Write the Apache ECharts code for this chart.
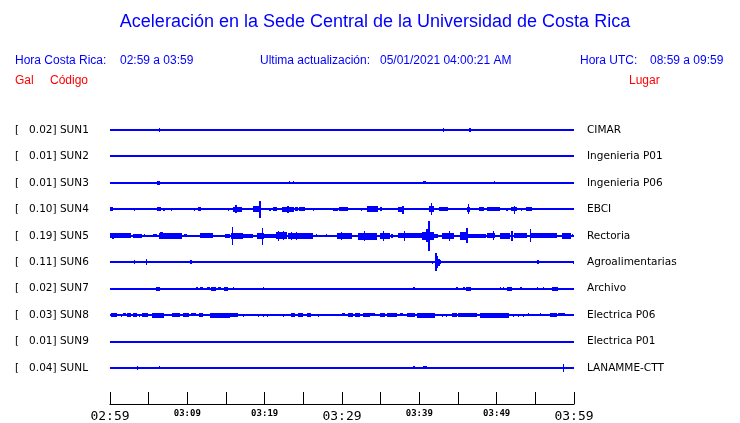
<!DOCTYPE html>
<html>
<head>
<meta charset="utf-8">
<script src="https://cdn.jsdelivr.net/npm/echarts@6/dist/echarts.min.js"></script>
<style>
html,body{margin:0;padding:0;background:#fff;overflow:hidden;}
#chart{width:740px;height:423px;}
</style>
</head>
<body>
<div id="chart"></div>
<script>
// ---- data ----
const codes = ['SUN1','SUN2','SUN3','SUN4','SUN5','SUN6','SUN7','SUN8','SUN9','SUNL'];
const galValues = ['0.02','0.01','0.01','0.10','0.19','0.11','0.02','0.03','0.01','0.04'];
const places = ['CIMAR','Ingenieria P01','Ingenieria P06','EBCI','Rectoria','Agroalimentarias','Archivo','Electrica P06','Electrica P01','LANAMME-CTT'];
const timeLabels = ['02:59','03:09','03:19','03:29','03:39','03:49','03:59'];
const totalMinutes = 60;
// bursts: [start minute, end minute, half amplitude (lane spacing = 10)]
const sun1 = [[6.3,6.3,0.6],[43.1,43.1,0.6],[46.4,46.7,0.55]];
const sun2 = [];
const sun3 = [[6.1,6.5,0.55],[23.2,23.2,0.5],[23.7,23.7,0.5],[40.5,40.9,0.5],[49.7,49.7,0.5],[51.2,51.2,0.3],[56.0,56.0,0.3]];
const sun4 = [[0,0.4,0.6],[3.1,3.1,0.4],[4.4,4.4,0.3],[6.1,6.6,0.55],[6.9,7.1,0.45],[7.9,7.9,0.4],[10.9,10.9,0.4],[11.4,11.8,0.55],
  [15.3,15.3,0.4],[15.9,17.1,0.75],[16.2,16.4,1.2],[18.5,19.3,0.9],[19.3,19.5,2.4],[20.6,20.8,0.45],[21.1,21.6,0.55],
  [22.2,23.7,0.75],[22.9,23.1,1.0],[23.9,24.3,0.55],[24.4,25.2,0.6],[26.3,26.3,0.4],[28.9,29.5,0.5],[29.6,30.8,0.6],
  [32.4,32.4,0.5],[33.2,34.6,0.85],[34.9,35.2,0.6],[36.3,36.3,0.35],[37.3,38.0,0.75],[37.7,37.9,1.1],[40.6,40.6,0.35],
  [41.3,41.9,0.9],[41.5,41.6,1.8],[42.5,43.6,0.6],[44.6,44.6,0.35],[46.1,46.5,0.75],[46.3,46.4,1.5],[47.7,48.4,0.55],
  [48.7,50.4,0.55],[51.2,51.5,0.45],[51.9,52.7,0.6],[52.3,52.3,1.1],[53.2,53.2,0.4],[53.8,54.6,0.55],[56.9,56.9,0.3],
  [58.3,58.3,0.3],[59.5,59.5,0.35]];
const sun5 = [[0,2.7,0.75],[0.3,0.6,0.9],[3.0,4.1,0.55],[4.4,4.5,0.4],[5.6,6.1,0.5],[6.3,9.3,0.85],[6.5,6.9,1.0],[9.6,10.0,0.45],
  [11.6,13.3,0.75],[14.9,15.6,0.6],[15.6,16.1,0.85],[15.8,15.9,2.6],[16.1,17.1,0.9],[17.2,18.5,0.55],[19.0,19.9,0.9],
  [19.6,19.7,2.4],[19.9,21.4,0.55],[21.5,22.9,1.0],[21.7,21.8,1.4],[22.4,22.5,1.3],[23.0,26.2,0.85],[23.4,23.5,1.2],
  [24.0,24.1,1.1],[26.7,26.7,0.5],[27.9,27.9,0.45],[29.4,31.4,0.85],[29.9,30.0,1.1],[32.1,34.6,0.95],[32.9,33.0,1.5],
  [34.9,36.2,0.9],[35.3,35.4,1.5],[36.3,36.6,0.55],[37.2,40.3,0.75],[38.0,38.1,1.5],[40.3,41.8,1.2],[40.9,41.4,1.9],
  [41.1,41.3,4.4],[41.8,42.4,0.55],[42.9,44.4,0.9],[43.8,43.9,1.5],[45.3,46.1,1.1],[46.0,46.2,2.2],[46.2,48.7,0.55],
  [48.7,49.7,0.75],[49.5,49.6,1.3],[50.4,51.7,0.9],[51.9,52.1,1.5],[52.2,53.9,0.75],[54.3,54.3,1.85],[54.5,57.8,0.7],
  [58.4,59.5,0.9],[59.8,59.8,0.4]];
const sun6 = [[3.1,3.2,0.55],[4.7,4.8,0.9],[6.3,6.3,0.35],[10.3,10.5,0.55],[23.5,23.5,0.35],[41.6,41.6,0.5],
  [42.0,42.2,2.6],[42.2,42.4,1.8],[42.4,42.6,1.0],[42.6,42.8,0.6],[47.1,47.1,0.35],[55.2,55.5,0.55],[59.9,59.9,0.4]];
const sun7 = [[5.9,6.4,0.55],[11.1,11.3,0.5],[11.7,12.1,0.5],[12.5,12.9,0.45],[13.1,13.8,0.55],[14.0,14.4,0.45],
  [14.7,15.2,0.55],[15.9,15.9,0.35],[19.8,19.8,0.35],[39.2,39.4,0.5],[44.8,45.0,0.5],[45.6,45.8,0.5],[46.0,46.6,0.55],
  [49.5,49.5,0.3],[50.4,50.4,0.35],[50.8,50.8,0.35],[51.3,52.0,0.6],[53.0,53.2,0.5],[55.2,55.3,0.5],[56.0,56.0,0.35],
  [57.1,57.9,0.6]];
const sun8 = [[0.1,0.9,0.55],[1.4,1.4,0.4],[1.7,2.1,0.5],[2.2,2.7,0.55],[3.0,3.5,0.55],[3.75,3.75,0.4],[4.1,4.9,0.55],
  [5.4,6.9,0.7],[8.0,9.0,0.55],[9.4,10.2,0.55],[10.5,11.2,0.5],[11.5,12.0,0.55],[12.9,15.5,0.7],[15.5,16.5,0.55],
  [17.2,17.2,0.4],[19.1,19.1,0.4],[19.8,19.8,0.4],[20.3,20.3,0.4],[22.4,22.4,0.4],[23.4,23.9,0.55],[24.3,25.0,0.55],
  [25.5,26.0,0.55],[26.9,26.9,0.4],[28.8,28.8,0.3],[30.0,30.4,0.5],[30.8,31.4,0.55],[31.7,32.3,0.55],[32.7,33.6,0.55],
  [33.6,34.3,0.5],[34.9,35.6,0.55],[35.8,37.1,0.55],[37.5,37.9,0.5],[38.4,39.4,0.55],[39.7,42.0,0.7],[42.9,42.9,0.4],
  [43.4,43.4,0.4],[44.2,44.9,0.55],[45.0,47.5,0.55],[47.8,51.5,0.7],[52.1,52.1,0.4],[52.8,52.8,0.4],[53.4,53.4,0.4],
  [54.0,54.0,0.5],[55.6,55.6,0.5],[56.9,57.8,0.55],[57.9,58.8,0.5]];
const sun9 = [];
const sunl = [[3.5,3.5,0.6],[6.3,6.3,0.45],[15.8,15.8,0.35],[17.3,17.3,0.35],[39.2,39.5,0.5],[40.5,41.0,0.5],[58.6,58.6,1.1]];
const traces = [sun1,sun2,sun3,sun4,sun5,sun6,sun7,sun8,sun9,sunl];

// ---- build ----
const laneStep = 10;
const gain = 1.3;
const burstData = [];
traces.forEach((tr, i) => tr.forEach(b => burstData.push([b[0], b[1], b[2], i])));
const laneData = codes.map((c, i) => [0, totalMinutes, i]);
const BLUE = '#0000ff';
const yMax = (codes.length - 1) * laneStep;

function laneFormatter(fn) {
  return function (v) {
    const idx = Math.round(v / laneStep);
    if (Math.abs(v - idx * laneStep) > 0.01 || idx < 0 || idx >= codes.length) return '';
    return fn(idx);
  };
}

const chart = echarts.init(document.getElementById('chart'), null, {renderer: 'canvas', width: 740, height: 423});
chart.setOption({
  animation: false,
  backgroundColor: '#ffffff',
  grid: {left: 110, width: 464, top: 130, height: 243, containLabel: false},
  xAxis: {
    type: 'value', min: 0, max: totalMinutes, interval: 5, position: 'bottom', offset: 36,
    axisLine: {show: true, onZero: false, lineStyle: {color: '#000', width: 1}},
    axisTick: {show: true, inside: true, length: 12, lineStyle: {color: '#000', width: 1}},
    splitLine: {show: false},
    axisLabel: {
      margin: 4,
      showMinLabel: true, showMaxLabel: true,
      formatter: function (v) {
        if (v % 10 !== 0) return '';
        const lbl = timeLabels[v / 10];
        return v % 30 === 0 ? '{b|' + lbl + '}' : '{s|' + lbl + '}';
      },
      rich: {
        b: {fontFamily: 'DejaVu Sans Mono', fontSize: 13, color: '#000', padding: [2, 0, 0, 0]},
        s: {fontFamily: 'DejaVu Sans Mono', fontSize: 9, fontWeight: 'bold', color: '#000', padding: [1, 0, 0, 0]}
      }
    }
  },
  yAxis: [{
    type: 'value', inverse: true, min: 0, max: yMax, interval: laneStep,
    axisLine: {show: false}, axisTick: {show: false}, splitLine: {show: false},
    axisLabel: {
      margin: 95, align: 'left', color: '#000', fontFamily: 'DejaVu Sans', fontSize: 10.5,
      formatter: laneFormatter(i => '[   ' + galValues[i] + '] ' + codes[i])
    }
  }, {
    type: 'value', inverse: true, min: 0, max: yMax, interval: laneStep, position: 'right',
    axisLine: {show: false}, axisTick: {show: false}, splitLine: {show: false},
    axisLabel: {
      margin: 13, align: 'left', color: '#000', fontFamily: 'DejaVu Sans', fontSize: 10.5,
      formatter: laneFormatter(i => places[i])
    }
  }],
  graphic: [
    {type: 'text', x: 375, y: 13, style: {text: 'Aceleración en la Sede Central de la Universidad de Costa Rica', font: '18px "Liberation Sans"', fill: BLUE, textAlign: 'center'}},
    {type: 'text', x: 15, y: 55, style: {text: 'Hora Costa Rica:', font: '12px "Liberation Sans"', fill: BLUE}},
    {type: 'text', x: 120, y: 55, style: {text: '02:59 a 03:59', font: '12px "Liberation Sans"', fill: BLUE}},
    {type: 'text', x: 260, y: 55, style: {text: 'Ultima actualización:', font: '12px "Liberation Sans"', fill: BLUE}},
    {type: 'text', x: 380, y: 55, style: {text: '05/01/2021 04:00:21 AM', font: '12px "Liberation Sans"', fill: BLUE}},
    {type: 'text', x: 580, y: 55, style: {text: 'Hora UTC:', font: '12px "Liberation Sans"', fill: BLUE}},
    {type: 'text', x: 650, y: 55, style: {text: '08:59 a 09:59', font: '12px "Liberation Sans"', fill: BLUE}},
    {type: 'text', x: 15, y: 75, style: {text: 'Gal', font: '12px "Liberation Sans"', fill: '#ff0000'}},
    {type: 'text', x: 50, y: 75, style: {text: 'Código', font: '12px "Liberation Sans"', fill: '#ff0000'}},
    {type: 'text', x: 629, y: 75, style: {text: 'Lugar', font: '12px "Liberation Sans"', fill: '#ff0000'}}
  ],
  series: [{
    type: 'custom', name: 'baselines', xAxisIndex: 0, yAxisIndex: 0,
    encode: {x: [0, 1], y: 2},
    data: laneData,
    silent: true, clip: false,
    renderItem: function (params, api) {
      const y = api.value(2) * laneStep;
      const p0 = api.coord([api.value(0), y]);
      const p1 = api.coord([api.value(1), y]);
      return {type: 'rect', shape: {x: p0[0], y: Math.round(p0[1]) - 1, width: p1[0] - p0[0], height: 2}, style: {fill: BLUE}};
    }
  }, {
    type: 'custom', name: 'bursts', xAxisIndex: 0, yAxisIndex: 0,
    encode: {x: [0, 1], y: 3},
    data: burstData,
    silent: true, clip: false,
    renderItem: function (params, api) {
      const lane = api.value(3) * laneStep;
      const a = api.value(2) * gain;
      const p0 = api.coord([api.value(0), lane - a]);
      const p1 = api.coord([api.value(1), lane + a]);
      const x = Math.round(p0[0]);
      const w = Math.max(1, Math.round(p1[0] - p0[0]));
      const yTop = Math.round(Math.min(p0[1], p1[1]));
      const h = Math.max(2, Math.round(Math.abs(p1[1] - p0[1])));
      return {type: 'rect', shape: {x: x, y: yTop, width: w, height: h}, style: {fill: BLUE}};
    }
  }]
});
</script>
</body>
</html>
